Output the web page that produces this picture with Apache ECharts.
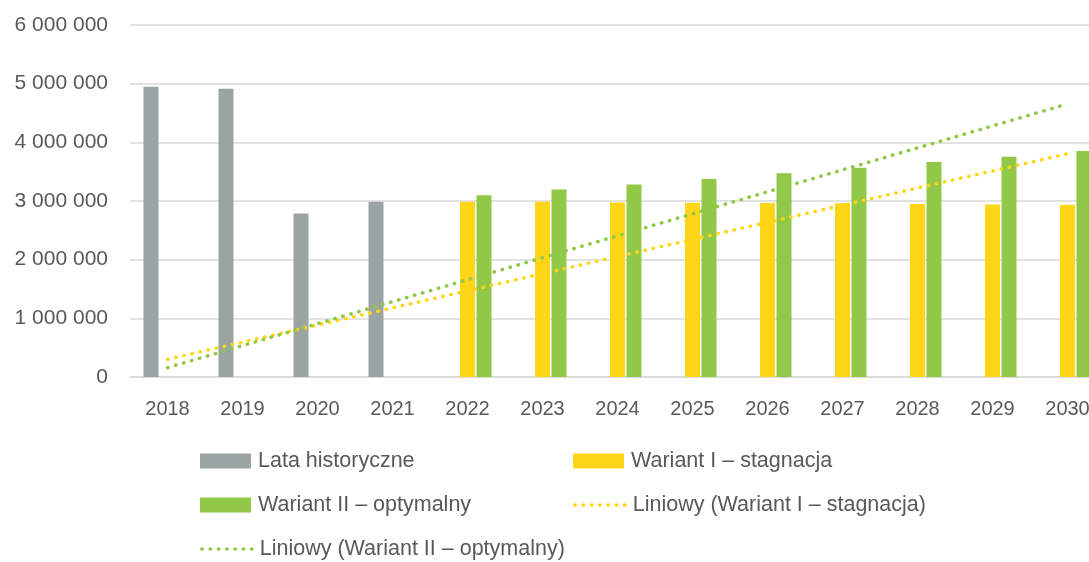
<!DOCTYPE html>
<html>
<head>
	<meta charset="utf-8">
	<title>Wykres</title>
	<script src="https://cdn.jsdelivr.net/npm/echarts@6/dist/echarts.min.js"></script>
</head>
<style type="text/css">
html, body {
	margin: 0;
	overflow: hidden;
	background: #ffffff;
}

/* wykres w oryginale jest uciety z prawej strony */
#chart {
	width: 1106px;
	height: 562px;
}
</style>
<body>
	<div id="chart"></div>
</body>

<script type="text/javascript">

	// dane
	var lata = ['2018', '2019', '2020', '2021', '2022', '2023', '2024', '2025', '2026', '2027', '2028', '2029', '2030'];
	var historyczne = [4949000, 4915000, 2788000, 2986000, null, null, null, null, null, null, null, null, null];
	var stagnacja = [null, null, null, null, 2987000, 2986000, 2976000, 2970000, 2964000, 2960000, 2947000, 2942000, 2935000];
	var optymalny = [null, null, null, null, 3100000, 3198000, 3283000, 3374000, 3471000, 3567000, 3664000, 3754000, 3852000];
	// linie trendu - tylko punkty poczatkowy i koncowy
	var trendStagnacja = [302000, null, null, null, null, null, null, null, null, null, null, null, 3804000];
	var trendOptymalny = [160000, null, null, null, null, null, null, null, null, null, null, null, 4654000];

	var nazwy = ['Lata historyczne', 'Wariant I – stagnacja', 'Wariant II – optymalny',
		'Liniowy (Wariant I – stagnacja)', 'Liniowy (Wariant II – optymalny)'];

	var font = "'Liberation Sans', sans-serif";
	var szary = '#9aa5a3';
	var zolty = '#fed517';
	var zielony = '#92c848';

	function legenda(nazwa, left, top, linia) {
		var item = { name: nazwa };
		if (linia) {
			// ukryj kolko na ikonie linii
			item.itemStyle = { opacity: 0 };
		} else {
			item.icon = 'rect';
		}
		return {
			data: [item],
			left: left,
			top: top,
			itemWidth: 51,
			itemHeight: 15,
			itemGap: 0,
			padding: 0,
			selectedMode: false,
			lineStyle: { width: 3.5 },
			textStyle: {
				fontFamily: font,
				fontSize: 21.5,
				color: '#595959',
				padding: [0, 0, 0, 2]
			}
		};
	}

	var Chart = echarts.init(document.getElementById('chart'));

	var option = {
		animation: false,
		textStyle: { fontFamily: font },
		grid: {
			left: 130,
			right: 1,
			top: 25,
			bottom: 185
		},
		legend: [
			legenda(nazwy[0], 200, 450, false),
			legenda(nazwy[1], 573, 450, false),
			legenda(nazwy[2], 200, 494, false),
			legenda(nazwy[3], 573, 494, true),
			legenda(nazwy[4], 200, 538, true)
		],
		xAxis: [
			{
				type: 'category',
				data: lata,
				axisTick: { show: false },
				axisLine: { lineStyle: { color: '#d9d9d9', width: 1.5 } },
				axisLabel: {
					fontFamily: font,
					fontSize: 20,
					color: '#595959',
					margin: 22
				}
			}
		],
		yAxis: [
			{
				type: 'value',
				min: 0,
				max: 6000000,
				interval: 1000000,
				axisLine: { show: false },
				axisTick: { show: false },
				splitLine: { lineStyle: { color: '#d9d9d9', width: 1.5 } },
				axisLabel: {
					fontFamily: font,
					fontSize: 21,
					color: '#595959',
					margin: 22,
					formatter: function (v) {
						return String(v).replace(/\B(?=(\d{3})+(?!\d))/g, ' ');
					}
				}
			}
		],
		series: [
			{
				name: nazwy[0],
				type: 'bar',
				barWidth: 15,
				barGap: '10%',
				itemStyle: { color: szary },
				data: historyczne
			},
			{
				name: nazwy[1],
				type: 'bar',
				barWidth: 15,
				barGap: '10%',
				itemStyle: { color: zolty },
				data: stagnacja
			},
			{
				name: nazwy[2],
				type: 'bar',
				barWidth: 15,
				barGap: '10%',
				itemStyle: { color: zielony },
				data: optymalny
			},
			{
				name: nazwy[3],
				type: 'line',
				symbol: 'none',
				connectNulls: true,
				lineStyle: { color: zolty, width: 3.5, type: [0.5, 7.8], cap: 'round' },
				itemStyle: { color: zolty },
				data: trendStagnacja
			},
			{
				name: nazwy[4],
				type: 'line',
				symbol: 'none',
				connectNulls: true,
				lineStyle: { color: zielony, width: 3.5, type: [0.5, 7.8], cap: 'round' },
				itemStyle: { color: zielony },
				data: trendOptymalny
			}
		]
	};

	Chart.setOption(option);
</script>
</html>
